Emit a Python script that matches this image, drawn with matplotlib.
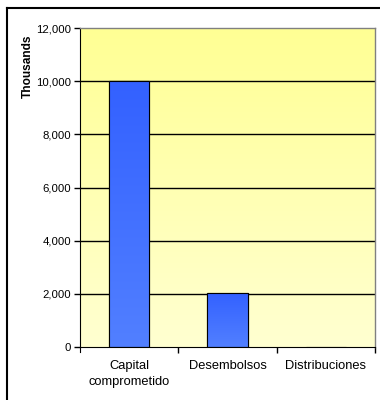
import numpy as np
import matplotlib
matplotlib.use("Agg")
import matplotlib.pyplot as plt
from matplotlib.patches import Rectangle
from matplotlib.lines import Line2D
from matplotlib.ticker import FuncFormatter, FixedLocator, NullFormatter

plt.rcParams['font.family'] = ['Liberation Sans', 'DejaVu Sans']

# data (thousands)
categories = ['Capital\ncomprometido', 'Desembolsos', 'Distribuciones']
values = [10000, 2050, 0]
y_ticks = [0, 2000, 4000, 6000, 8000, 10000, 12000]

fig = plt.figure(figsize=(3.8, 4.0), dpi=100)
ax = fig.add_axes([80 / 380, 53 / 400, 295 / 380, 319 / 400])

x = np.arange(len(categories))
ax.set_xlim(-0.5, len(categories) - 0.5)
ax.set_ylim(0, 12000)

# yellow gradient background
grad = np.linspace(0, 1, 256).reshape(-1, 1)
bg_top = np.array([1.0, 1.0, 0.58])
bg_bot = np.array([1.0, 1.0, 0.82])
bg = bg_top + (bg_bot - bg_top) * grad
ax.imshow(bg.reshape(256, 1, 3), extent=[-0.5, len(categories) - 0.5, 0, 12000],
          aspect='auto', zorder=0, origin='upper')

# gridlines
for t in y_ticks[1:-1]:
    ax.axhline(t, color='black', lw=1.0, zorder=1)

# bars with blue gradient
bar_top = np.array([0.20, 0.38, 1.0])
bar_bot = np.array([0.32, 0.50, 1.0])
bars = ax.bar(x, values, width=0.41, color='#3F6FFF', edgecolor='black', lw=0.8, zorder=2)
for b, v in zip(bars, values):
    if v <= 0:
        continue
    g = bar_top + (bar_bot - bar_top) * grad
    im = ax.imshow(g.reshape(256, 1, 3),
                   extent=[b.get_x(), b.get_x() + b.get_width(), 0, v],
                   aspect='auto', zorder=2.5, origin='upper')
    im.set_clip_path(b)
    ax.add_patch(Rectangle((b.get_x(), 0), b.get_width(), v, fill=False,
                           edgecolor='black', lw=0.8, zorder=3))

ax.set_xlim(-0.5, len(categories) - 0.5)
ax.set_ylim(0, 12000)

# spines
for s in ['top', 'right']:
    ax.spines[s].set_color('#808080')
    ax.spines[s].set_linewidth(1.0)
ax.spines['bottom'].set_color('black')
ax.spines['left'].set_color('black')
ax.spines['left'].set_bounds(-180, 12000)

ax.yaxis.set_major_locator(FixedLocator(y_ticks))
ax.yaxis.set_major_formatter(FuncFormatter(lambda v, p: f'{int(v):,}'))
ax.tick_params(axis='y', direction='out', length=4, width=1, labelsize=8.2,
               pad=2.5, colors='black')

ax.xaxis.set_major_locator(FixedLocator([0.5, 1.5, 2.5]))
ax.xaxis.set_major_formatter(NullFormatter())
ax.tick_params(axis='x', direction='out', length=4, width=1)
for xi, c in zip(x, categories):
    ax.text(xi, -0.04, c, transform=ax.get_xaxis_transform(), ha='center',
            va='top', fontsize=9.3, linespacing=1.45)

fig.text(28 / 380, 1 - 66 / 400, 'Thousands', rotation=90, ha='center',
         va='center', fontsize=8.6, fontweight='bold')

# outer frame (left and top edges)
fig.add_artist(Line2D([6.5 / 380, 6.5 / 380], [0, 1 - 8 / 400], color='black',
                      lw=1.5, transform=fig.transFigure))
fig.add_artist(Line2D([6.5 / 380, 1], [1 - 8 / 400, 1 - 8 / 400], color='black',
                      lw=1.5, transform=fig.transFigure))

fig.savefig('out.png', dpi=100)
